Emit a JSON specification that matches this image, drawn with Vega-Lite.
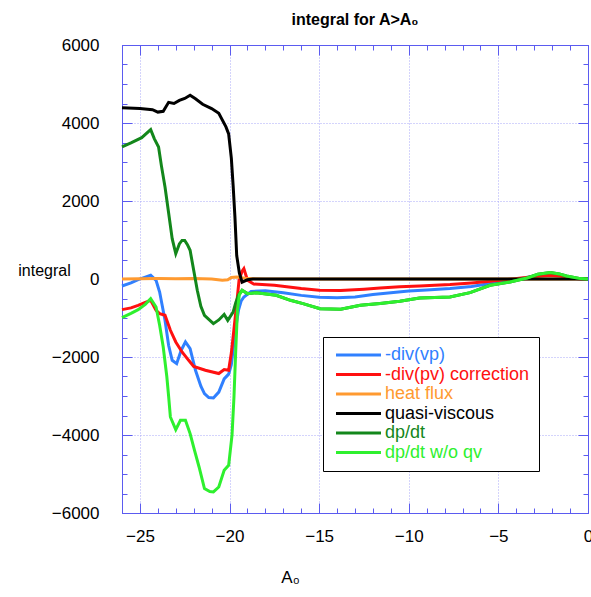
{
  "$schema": "https://vega.github.io/schema/vega-lite/v6.json",
  "width": 466,
  "height": 468,
  "autosize": {"type": "none"},
  "padding": {"left": 122, "top": 45, "right": 3, "bottom": 84},
  "background": "white",
  "title": {"text": "integral for A>A₀", "font": "Liberation Sans", "fontSize": 16, "fontWeight": "bold", "anchor": "middle", "color": "black", "offset": 8},
  "config": {
    "view": {"stroke": "#5b5bf0", "strokeWidth": 1},
    "axis": {"domainColor": "#5b5bf0", "tickColor": "#5b5bf0", "gridColor": "#a8a8f8", "gridDash": [1, 2], "labelFont": "Liberation Sans", "labelFontSize": 17, "labelColor": "black", "titleFont": "Liberation Sans", "titleFontWeight": "normal", "titleColor": "black", "titleFontSize": 17}
  },
  "data": {"values": [
    {"s":"-div(vp)","x":-26,"y":-180},{"s":"-div(vp)","x":-25.5,"y":-100},{"s":"-div(vp)","x":-25.1,"y":-15},{"s":"-div(vp)","x":-24.7,"y":50},{"s":"-div(vp)","x":-24.4,"y":95},{"s":"-div(vp)","x":-24.1,"y":-33},{"s":"-div(vp)","x":-23.9,"y":-333},{"s":"-div(vp)","x":-23.6,"y":-1060},{"s":"-div(vp)","x":-23.4,"y":-1700},{"s":"-div(vp)","x":-23.2,"y":-2085},{"s":"-div(vp)","x":-22.95,"y":-2170},{"s":"-div(vp)","x":-22.7,"y":-1830},{"s":"-div(vp)","x":-22.46,"y":-1615},{"s":"-div(vp)","x":-22.2,"y":-1785},{"s":"-div(vp)","x":-21.9,"y":-2340},{"s":"-div(vp)","x":-21.6,"y":-2750},{"s":"-div(vp)","x":-21.4,"y":-2940},{"s":"-div(vp)","x":-21.16,"y":-3040},{"s":"-div(vp)","x":-20.9,"y":-3050},{"s":"-div(vp)","x":-20.6,"y":-2900},{"s":"-div(vp)","x":-20.3,"y":-2560},{"s":"-div(vp)","x":-20.05,"y":-2440},{"s":"-div(vp)","x":-19.9,"y":-2200},{"s":"-div(vp)","x":-19.76,"y":-1656},{"s":"-div(vp)","x":-19.6,"y":-1100},{"s":"-div(vp)","x":-19.5,"y":-800},{"s":"-div(vp)","x":-19.35,"y":-560},{"s":"-div(vp)","x":-19.2,"y":-460},{"s":"-div(vp)","x":-18.8,"y":-320},{"s":"-div(vp)","x":-18,"y":-300},{"s":"-div(vp)","x":-17,"y":-350},{"s":"-div(vp)","x":-16,"y":-420},{"s":"-div(vp)","x":-15,"y":-470},{"s":"-div(vp)","x":-14,"y":-480},{"s":"-div(vp)","x":-13,"y":-460},{"s":"-div(vp)","x":-12,"y":-400},{"s":"-div(vp)","x":-11,"y":-350},{"s":"-div(vp)","x":-10,"y":-310},{"s":"-div(vp)","x":-9,"y":-280},{"s":"-div(vp)","x":-7.7,"y":-246},{"s":"-div(vp)","x":-6.5,"y":-190},{"s":"-div(vp)","x":-5.46,"y":-118},{"s":"-div(vp)","x":-4.35,"y":-33},{"s":"-div(vp)","x":-3.8,"y":10},{"s":"-div(vp)","x":-3,"y":80},{"s":"-div(vp)","x":-2.1,"y":113},{"s":"-div(vp)","x":-1.5,"y":80},{"s":"-div(vp)","x":-1,"y":26},{"s":"-div(vp)","x":-0.5,"y":5},{"s":"-div(vp)","x":0,"y":0},

    {"s":"-div(pv) correction","x":-26,"y":-785},{"s":"-div(pv) correction","x":-25.5,"y":-740},{"s":"-div(pv) correction","x":-25.1,"y":-675},{"s":"-div(pv) correction","x":-24.7,"y":-600},{"s":"-div(pv) correction","x":-24.4,"y":-546},{"s":"-div(pv) correction","x":-24.1,"y":-803},{"s":"-div(pv) correction","x":-23.9,"y":-888},{"s":"-div(pv) correction","x":-23.6,"y":-930},{"s":"-div(pv) correction","x":-23.3,"y":-1315},{"s":"-div(pv) correction","x":-23,"y":-1615},{"s":"-div(pv) correction","x":-22.65,"y":-1870},{"s":"-div(pv) correction","x":-22.28,"y":-2085},{"s":"-div(pv) correction","x":-22,"y":-2240},{"s":"-div(pv) correction","x":-21.35,"y":-2340},{"s":"-div(pv) correction","x":-20.6,"y":-2425},{"s":"-div(pv) correction","x":-20.3,"y":-2323},{"s":"-div(pv) correction","x":-20.05,"y":-2340},{"s":"-div(pv) correction","x":-19.9,"y":-1900},{"s":"-div(pv) correction","x":-19.8,"y":-1487},{"s":"-div(pv) correction","x":-19.6,"y":-630},{"s":"-div(pv) correction","x":-19.47,"y":-33},{"s":"-div(pv) correction","x":-19.3,"y":200},{"s":"-div(pv) correction","x":-19.2,"y":267},{"s":"-div(pv) correction","x":-19,"y":-33},{"s":"-div(pv) correction","x":-18.65,"y":-130},{"s":"-div(pv) correction","x":-17.5,"y":-160},{"s":"-div(pv) correction","x":-16,"y":-246},{"s":"-div(pv) correction","x":-15,"y":-290},{"s":"-div(pv) correction","x":-13.8,"y":-295},{"s":"-div(pv) correction","x":-12.5,"y":-260},{"s":"-div(pv) correction","x":-11.6,"y":-230},{"s":"-div(pv) correction","x":-10.5,"y":-200},{"s":"-div(pv) correction","x":-9.4,"y":-180},{"s":"-div(pv) correction","x":-7.7,"y":-144},{"s":"-div(pv) correction","x":-6.5,"y":-100},{"s":"-div(pv) correction","x":-5.46,"y":-60},{"s":"-div(pv) correction","x":-4.35,"y":-8},{"s":"-div(pv) correction","x":-3.2,"y":50},{"s":"-div(pv) correction","x":-2.1,"y":95},{"s":"-div(pv) correction","x":-1.5,"y":70},{"s":"-div(pv) correction","x":-1,"y":26},{"s":"-div(pv) correction","x":-0.5,"y":5},{"s":"-div(pv) correction","x":0,"y":0},

    {"s":"heat flux","x":-26,"y":0},{"s":"heat flux","x":-25,"y":5},{"s":"heat flux","x":-24,"y":10},{"s":"heat flux","x":-23,"y":5},{"s":"heat flux","x":-22,"y":10},{"s":"heat flux","x":-21,"y":0},{"s":"heat flux","x":-20.4,"y":-30},{"s":"heat flux","x":-20.1,"y":-20},{"s":"heat flux","x":-19.9,"y":40},{"s":"heat flux","x":-19.6,"y":50},{"s":"heat flux","x":-19.3,"y":30},{"s":"heat flux","x":-19,"y":10},{"s":"heat flux","x":-18,"y":0},{"s":"heat flux","x":-10,"y":0},{"s":"heat flux","x":0,"y":0},

    {"s":"quasi-viscous","x":-26,"y":4390},{"s":"quasi-viscous","x":-25,"y":4370},{"s":"quasi-viscous","x":-24.3,"y":4340},{"s":"quasi-viscous","x":-24,"y":4280},{"s":"quasi-viscous","x":-23.7,"y":4300},{"s":"quasi-viscous","x":-23.4,"y":4530},{"s":"quasi-viscous","x":-23.1,"y":4500},{"s":"quasi-viscous","x":-22.8,"y":4580},{"s":"quasi-viscous","x":-22.5,"y":4630},{"s":"quasi-viscous","x":-22.2,"y":4710},{"s":"quasi-viscous","x":-21.9,"y":4620},{"s":"quasi-viscous","x":-21.5,"y":4480},{"s":"quasi-viscous","x":-21,"y":4370},{"s":"quasi-viscous","x":-20.6,"y":4250},{"s":"quasi-viscous","x":-20.2,"y":3900},{"s":"quasi-viscous","x":-20.05,"y":3720},{"s":"quasi-viscous","x":-19.9,"y":3100},{"s":"quasi-viscous","x":-19.8,"y":2400},{"s":"quasi-viscous","x":-19.7,"y":1600},{"s":"quasi-viscous","x":-19.6,"y":600},{"s":"quasi-viscous","x":-19.45,"y":150},{"s":"quasi-viscous","x":-19.3,"y":-80},{"s":"quasi-viscous","x":-19,"y":-20},{"s":"quasi-viscous","x":-18.7,"y":0},{"s":"quasi-viscous","x":-10,"y":0},{"s":"quasi-viscous","x":0,"y":0},

    {"s":"dp/dt","x":-26,"y":3385},{"s":"dp/dt","x":-25.5,"y":3490},{"s":"dp/dt","x":-24.9,"y":3625},{"s":"dp/dt","x":-24.4,"y":3830},{"s":"dp/dt","x":-24.2,"y":3600},{"s":"dp/dt","x":-23.96,"y":3385},{"s":"dp/dt","x":-23.8,"y":2900},{"s":"dp/dt","x":-23.6,"y":2360},{"s":"dp/dt","x":-23.4,"y":1700},{"s":"dp/dt","x":-23.2,"y":1035},{"s":"dp/dt","x":-23,"y":650},{"s":"dp/dt","x":-22.8,"y":900},{"s":"dp/dt","x":-22.65,"y":990},{"s":"dp/dt","x":-22.5,"y":990},{"s":"dp/dt","x":-22.35,"y":880},{"s":"dp/dt","x":-22.2,"y":735},{"s":"dp/dt","x":-22,"y":223},{"s":"dp/dt","x":-21.8,"y":-290},{"s":"dp/dt","x":-21.6,"y":-700},{"s":"dp/dt","x":-21.4,"y":-930},{"s":"dp/dt","x":-20.9,"y":-1145},{"s":"dp/dt","x":-20.6,"y":-1050},{"s":"dp/dt","x":-20.3,"y":-910},{"s":"dp/dt","x":-20.1,"y":-1060},{"s":"dp/dt","x":-19.8,"y":-850},{"s":"dp/dt","x":-19.65,"y":-600},{"s":"dp/dt","x":-19.5,"y":-418},{"s":"dp/dt","x":-19.3,"y":-290},{"s":"dp/dt","x":-19,"y":-375},{"s":"dp/dt","x":-18.5,"y":-350},{"s":"dp/dt","x":-17.4,"y":-418},{"s":"dp/dt","x":-16.6,"y":-546},{"s":"dp/dt","x":-15.9,"y":-630},{"s":"dp/dt","x":-14.95,"y":-760},{"s":"dp/dt","x":-13.8,"y":-777},{"s":"dp/dt","x":-12.7,"y":-675},{"s":"dp/dt","x":-11.6,"y":-630},{"s":"dp/dt","x":-10.5,"y":-570},{"s":"dp/dt","x":-9.4,"y":-487},{"s":"dp/dt","x":-7.7,"y":-460},{"s":"dp/dt","x":-6.58,"y":-350},{"s":"dp/dt","x":-5.46,"y":-162},{"s":"dp/dt","x":-4.35,"y":-77},{"s":"dp/dt","x":-3.4,"y":26},{"s":"dp/dt","x":-2.8,"y":120},{"s":"dp/dt","x":-2.1,"y":164},{"s":"dp/dt","x":-1.6,"y":130},{"s":"dp/dt","x":-1.2,"y":77},{"s":"dp/dt","x":-0.42,"y":10},{"s":"dp/dt","x":0,"y":0},

    {"s":"dp/dt w/o qv","x":-26,"y":-990},{"s":"dp/dt w/o qv","x":-25.5,"y":-880},{"s":"dp/dt w/o qv","x":-25.1,"y":-785},{"s":"dp/dt w/o qv","x":-24.7,"y":-650},{"s":"dp/dt w/o qv","x":-24.4,"y":-503},{"s":"dp/dt w/o qv","x":-24.1,"y":-718},{"s":"dp/dt w/o qv","x":-23.9,"y":-1187},{"s":"dp/dt w/o qv","x":-23.7,"y":-1744},{"s":"dp/dt w/o qv","x":-23.5,"y":-2500},{"s":"dp/dt w/o qv","x":-23.4,"y":-3000},{"s":"dp/dt w/o qv","x":-23.3,"y":-3538},{"s":"dp/dt w/o qv","x":-23,"y":-3862},{"s":"dp/dt w/o qv","x":-22.74,"y":-3623},{"s":"dp/dt w/o qv","x":-22.46,"y":-3623},{"s":"dp/dt w/o qv","x":-22.2,"y":-3964},{"s":"dp/dt w/o qv","x":-21.95,"y":-4400},{"s":"dp/dt w/o qv","x":-21.7,"y":-4820},{"s":"dp/dt w/o qv","x":-21.4,"y":-5374},{"s":"dp/dt w/o qv","x":-21.1,"y":-5450},{"s":"dp/dt w/o qv","x":-20.9,"y":-5460},{"s":"dp/dt w/o qv","x":-20.6,"y":-5333},{"s":"dp/dt w/o qv","x":-20.3,"y":-4905},{"s":"dp/dt w/o qv","x":-20.05,"y":-4777},{"s":"dp/dt w/o qv","x":-19.86,"y":-4000},{"s":"dp/dt w/o qv","x":-19.75,"y":-3000},{"s":"dp/dt w/o qv","x":-19.66,"y":-1900},{"s":"dp/dt w/o qv","x":-19.56,"y":-800},{"s":"dp/dt w/o qv","x":-19.45,"y":-400},{"s":"dp/dt w/o qv","x":-19.3,"y":-290},{"s":"dp/dt w/o qv","x":-19,"y":-375},{"s":"dp/dt w/o qv","x":-18.5,"y":-350},{"s":"dp/dt w/o qv","x":-17.4,"y":-418},{"s":"dp/dt w/o qv","x":-16.6,"y":-546},{"s":"dp/dt w/o qv","x":-15.9,"y":-630},{"s":"dp/dt w/o qv","x":-14.95,"y":-760},{"s":"dp/dt w/o qv","x":-13.8,"y":-777},{"s":"dp/dt w/o qv","x":-12.7,"y":-675},{"s":"dp/dt w/o qv","x":-11.6,"y":-630},{"s":"dp/dt w/o qv","x":-10.5,"y":-570},{"s":"dp/dt w/o qv","x":-9.4,"y":-487},{"s":"dp/dt w/o qv","x":-7.7,"y":-460},{"s":"dp/dt w/o qv","x":-6.58,"y":-350},{"s":"dp/dt w/o qv","x":-5.46,"y":-162},{"s":"dp/dt w/o qv","x":-4.35,"y":-77},{"s":"dp/dt w/o qv","x":-3.4,"y":26},{"s":"dp/dt w/o qv","x":-2.8,"y":120},{"s":"dp/dt w/o qv","x":-2.1,"y":164},{"s":"dp/dt w/o qv","x":-1.6,"y":130},{"s":"dp/dt w/o qv","x":-1.2,"y":77},{"s":"dp/dt w/o qv","x":-0.42,"y":10},{"s":"dp/dt w/o qv","x":0,"y":0}
  ]},
  "resolve": {"axis": {"x": "independent", "y": "independent"}},
  "layer": [
    {
      "mark": {"type": "line", "strokeWidth": 3, "interpolate": "linear"},
      "encoding": {
        "x": {"field": "x", "type": "quantitative", "scale": {"domain": [-26, 0], "nice": false, "zero": false},
              "axis": {"orient": "bottom", "values": [-25, -20, -15, -10, -5, 0], "grid": true, "tickSize": -10, "labelPadding": 25, "format": "d", "title": "A₀", "titleX": 168, "titleY": 64, "titleAlign": "center", "titleBaseline": "middle", "labelFlush": false}},
        "y": {"field": "y", "type": "quantitative", "scale": {"domain": [-6000, 6000], "nice": false, "zero": false},
              "axis": {"orient": "left", "values": [-6000, -4000, -2000, 0, 2000, 4000, 6000], "grid": true, "tickSize": -10, "labelPadding": 33, "format": "d", "title": "integral", "titleFontSize": 16, "titleAngle": 0, "titleX": -78, "titleY": 225, "titleAlign": "center", "titleBaseline": "middle", "labelFlush": false}},
        "color": {"field": "s", "type": "nominal", "sort": null,
                  "scale": {"domain": ["-div(vp)", "-div(pv) correction", "heat flux", "quasi-viscous", "dp/dt", "dp/dt w/o qv"], "range": ["#3080ff", "#ff1010", "#ff9a30", "#000000", "#13871b", "#2ef02e"]},
                  "legend": {"orient": "none", "legendX": 201, "legendY": 292, "title": null, "strokeColor": "black", "fillColor": "white", "padding": 9, "symbolType": "M-1,0H8", "symbolSize": 100, "symbolStrokeWidth": 3, "labelFont": "Liberation Sans", "labelFontSize": 18, "labelOffset": 35, "rowPadding": 1.5,
                             "encode": {"labels": {"update": {"fill": {"scale": "color", "field": "value"}}}}}}
      }
    },
    {
      "mark": {"type": "point", "opacity": 0},
      "encoding": {
        "x": {"field": "x", "type": "quantitative", "axis": {"orient": "bottom", "values": [-26,-24,-23,-22,-21,-19,-18,-17,-16,-14,-13,-12,-11,-9,-8,-7,-6,-4,-3,-2,-1], "labels": false, "grid": false, "domain": false, "tickSize": -5, "title": null}},
        "y": {"field": "y", "type": "quantitative", "axis": {"orient": "left", "values": [-5500,-5000,-4500,-3500,-3000,-2500,-1500,-1000,-500,500,1000,1500,2500,3000,3500,4500,5000,5500], "labels": false, "grid": false, "domain": false, "tickSize": -5, "title": null}}
      }
    },
    {
      "mark": {"type": "point", "opacity": 0},
      "encoding": {
        "x": {"field": "x", "type": "quantitative", "axis": {"orient": "top", "values": [-25, -20, -15, -10, -5, 0], "labels": false, "grid": false, "tickSize": -10, "title": null}},
        "y": {"field": "y", "type": "quantitative", "axis": {"orient": "right", "values": [-6000, -4000, -2000, 0, 2000, 4000, 6000], "labels": false, "grid": false, "tickSize": -10, "title": null}}
      }
    },
    {
      "mark": {"type": "point", "opacity": 0},
      "encoding": {
        "x": {"field": "x", "type": "quantitative", "axis": {"orient": "top", "values": [-26,-24,-23,-22,-21,-19,-18,-17,-16,-14,-13,-12,-11,-9,-8,-7,-6,-4,-3,-2,-1], "labels": false, "grid": false, "domain": false, "tickSize": -5, "title": null}},
        "y": {"field": "y", "type": "quantitative", "axis": {"orient": "right", "values": [-5500,-5000,-4500,-3500,-3000,-2500,-1500,-1000,-500,500,1000,1500,2500,3000,3500,4500,5000,5500], "labels": false, "grid": false, "domain": false, "tickSize": -5, "title": null}}
      }
    }
  ]
}
